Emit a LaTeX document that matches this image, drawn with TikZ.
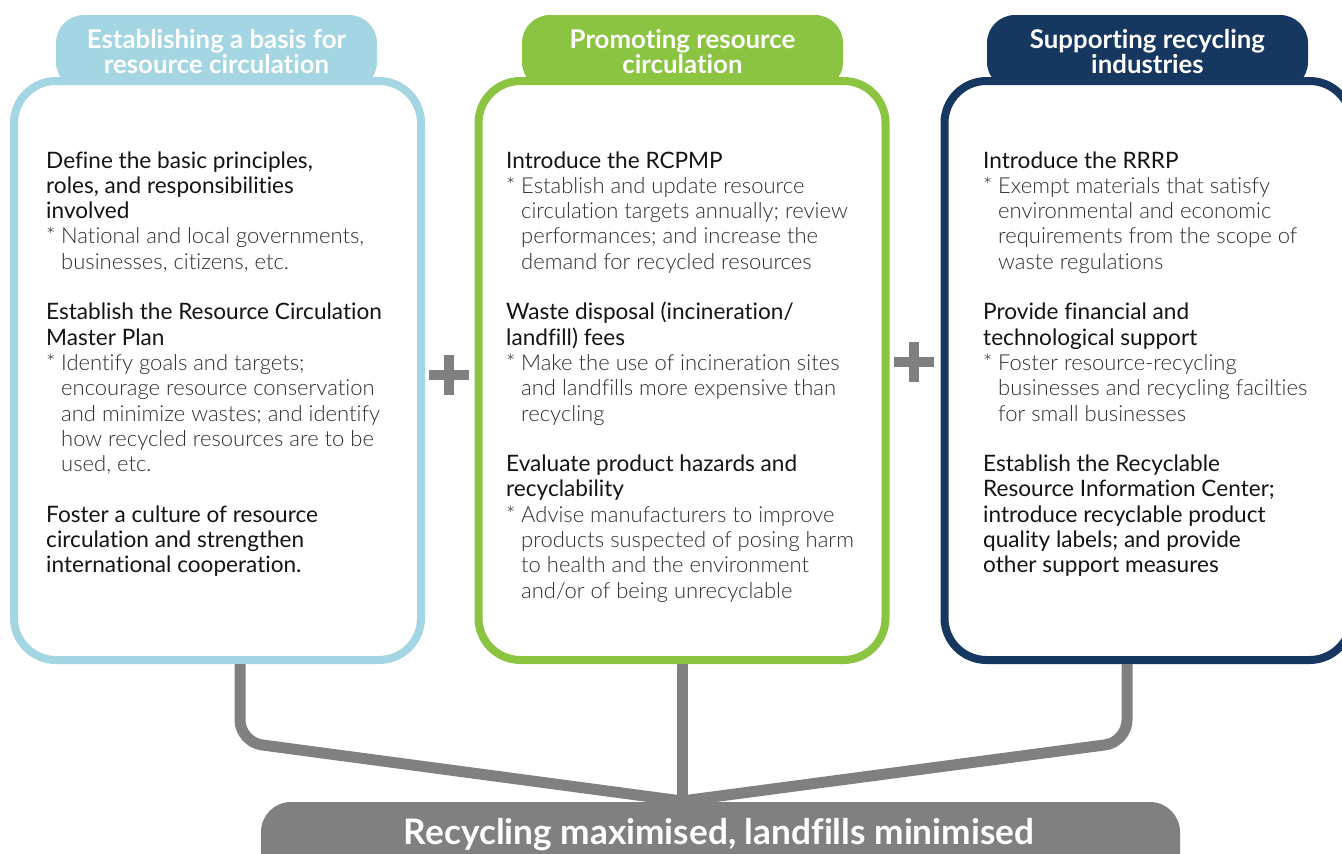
\documentclass[tikz,border=0pt]{standalone}
\usepackage{fontspec}
\setmainfont{Lato}[Ligatures=NoCommon]
\IfFontExistsTF{Lato Light}{\newfontfamily\lightfont{Lato Light}[Ligatures=NoCommon]}{\newfontfamily\lightfont{Lato}[Ligatures=NoCommon]}
\IfFontExistsTF{Lato Bold}{\newfontfamily\boldfont{Lato Bold}[Ligatures=NoCommon]}{\newfontfamily\boldfont{Lato}[FakeBold=2,Ligatures=NoCommon]}
\definecolor{lblue}{HTML}{A3D6E2}
\definecolor{lgreen}{HTML}{8AC440}
\definecolor{navy}{HTML}{16375F}
\definecolor{cgray}{HTML}{808080}
\definecolor{maintxt}{HTML}{141414}
\definecolor{subtxt}{HTML}{2E2E2E}
\newcommand\mainln[1]{\hbox{\fontsize{22.6}{25.3}\selectfont\color{maintxt}#1}}
\newcommand\subfirst[1]{\hbox{\lightfont\color{subtxt}\makebox[15pt][l]{*}#1}}
\newcommand\subln[1]{\hbox{\lightfont\color{subtxt}\hspace*{15pt}#1}}
\newcommand\blankln{\hbox{}}
\newcommand\txtblock[1]{\vtop{\fontsize{22}{25.3}\selectfont\baselineskip=25.3pt\lineskiplimit=-\maxdimen\lineskip=0pt #1}}
\newcommand\twolines[2]{\vtop{\baselineskip=25.5pt\lineskiplimit=-\maxdimen\lineskip=0pt\halign{\hfil##\hfil\cr #1\cr #2\cr}}}
\tikzset{
  tabbox/.style={fill=#1, rounded corners=28pt},
  mainbox/.style={draw=#1, line width=8pt, fill=white, rounded corners=42pt, minimum width=407pt, minimum height=579pt, inner sep=0pt},
  tabtxt/.style={anchor=base, inner sep=0pt, text=white, font=\boldfont\fontsize{25.8}{25.5}\selectfont},
  bodytxt/.style={anchor=base west, inner sep=0pt},
  conn/.style={draw=cgray, line width=11pt, rounded corners=22pt},
  plussign/.style={fill=cgray},
  bartxt/.style={anchor=base, inner sep=0pt, text=white, font=\boldfont\fontsize{35.2}{38}\selectfont}
}
\begin{document}
\begin{tikzpicture}[x=1pt,y=-1pt]
\useasboundingbox (0,0) rectangle (1342,854);
% tabs
\fill[tabbox=lblue] (56,15) rectangle (377,90);
\fill[tabbox=lgreen] (522,15) rectangle (843,90);
\fill[tabbox=navy] (987,15) rectangle (1308,90);
% boxes
\node[mainbox=lblue] (b1) at (217.5,370.5) {};
\node[mainbox=lgreen] (b2) at (682,370.5) {};
\node[mainbox=navy] (b3) at (1148,370.5) {};
% tab texts
\node[tabtxt] (t1) at (216.5,48) {\twolines{Establishing a basis for}{resource circulation}};
\node[tabtxt] (t2) at (682.5,48) {\twolines{Promoting resource}{circulation}};
\node[tabtxt] (t3) at (1147.5,48) {\twolines{Supporting recycling}{industries}};
% connectors
\coordinate (j) at (682,801);
\draw[conn] ([xshift=22.5pt]b1.south) -- (240,742) -- (j);
\draw[conn] ([xshift=-21pt]b3.south) -- (1127,742) -- (j);
\draw[conn] (b2.south) -- (j);
% bottom bar
\fill[cgray, rounded corners=30pt] (261,802) rectangle (1180,900);
\node[bartxt] (bt) at (719,844.5) {Recycling maximised, landfills minimised};
% plus signs
\fill[plussign] (429,370) rectangle (469,379.5);
\fill[plussign] (444,354.5) rectangle (454,395);
\fill[plussign] (894,357) rectangle (934,366.5);
\fill[plussign] (909,341.5) rectangle (919,382);
% box 1 text
\node[bodytxt] (x1) at (46,168) {\txtblock{%
\mainln{Define the basic principles,}
\mainln{roles, and responsibilities}
\mainln{involved}
\subfirst{National and local governments,}
\subln{businesses, citizens, etc.}
\blankln
\mainln{Establish the Resource Circulation}
\mainln{Master Plan}
\subfirst{Identify goals and targets;}
\subln{encourage resource conservation}
\subln{and minimize wastes; and identify}
\subln{how recycled resources are to be}
\subln{used, etc.}
\blankln
\mainln{Foster a culture of resource}
\mainln{circulation and strengthen}
\mainln{international cooperation.}}};
% box 2 text
\node[bodytxt] (x2) at (506,168) {\txtblock{%
\mainln{Introduce the RCPMP}
\subfirst{Establish and update resource}
\subln{circulation targets annually; review}
\subln{performances; and increase the}
\subln{demand for recycled resources}
\blankln
\mainln{Waste disposal (incineration/}
\mainln{landfill) fees}
\subfirst{Make the use of incineration sites}
\subln{and landfills more expensive than}
\subln{recycling}
\blankln
\mainln{Evaluate product hazards and}
\mainln{recyclability}
\subfirst{Advise manufacturers to improve}
\subln{products suspected of posing harm}
\subln{to health and the environment}
\subln{and/or of being unrecyclable}}};
% box 3 text
\node[bodytxt] (x3) at (983,168) {\txtblock{%
\mainln{Introduce the RRRP}
\subfirst{Exempt materials that satisfy}
\subln{environmental and economic}
\subln{requirements from the scope of}
\subln{waste regulations}
\blankln
\mainln{Provide financial and}
\mainln{technological support}
\subfirst{Foster resource-recycling}
\subln{businesses and recycling facilties}
\subln{for small businesses}
\blankln
\mainln{Establish the Recyclable}
\mainln{Resource Information Center;}
\mainln{introduce recyclable product}
\mainln{quality labels; and provide}
\mainln{other support measures}}};
\end{tikzpicture}
\end{document}
